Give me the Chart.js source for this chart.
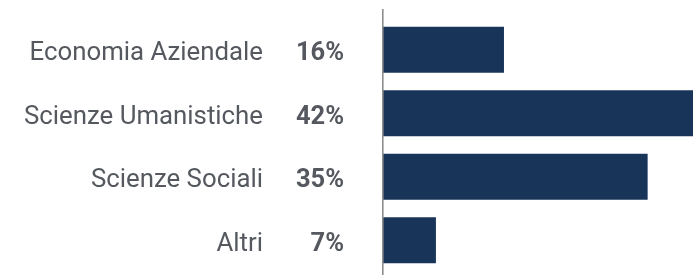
<!DOCTYPE html>
<html>
<head>
<meta charset="utf-8">
<script src="https://cdn.jsdelivr.net/npm/chart.js@4/dist/chart.umd.min.js"></script>
<style>
  html, body { margin: 0; padding: 0; background: #ffffff; }
  #wrap { width: 693px; height: 276px; position: relative; }
</style>
</head>
<body>
<div id="wrap"><canvas id="c"></canvas></div>
<script>
const categories = ["Economia Aziendale", "Scienze Umanistiche", "Scienze Sociali", "Altri"];
const values = [16, 42, 35, 7];
const percentLabels = ["16%", "42%", "35%", "7%"];

const axisLinePlugin = {
  id: 'axisLine',
  afterDatasetsDraw(chart) {
    const { ctx, chartArea } = chart;
    ctx.save();
    ctx.strokeStyle = '#8e8e8e';
    ctx.lineWidth = 1.6;
    ctx.beginPath();
    ctx.moveTo(chartArea.left - 0.2, chartArea.top - 9);
    ctx.lineTo(chartArea.left - 0.2, chartArea.bottom + 3);
    ctx.stroke();
    ctx.restore();
  }
};

function fixAxis(width) {
  return function (s) {
    s.width = width;
    s.paddingTop = 0;
    s.paddingBottom = 0;
  };
}

new Chart(document.getElementById('c'), {
  type: 'bar',
  data: {
    labels: categories,
    datasets: [{
      data: values,
      backgroundColor: '#183559',
      borderWidth: 0,
      categoryPercentage: 1,
      barPercentage: 0.724,
      yAxisID: 'y'
    }]
  },
  options: {
    indexAxis: 'y',
    responsive: true,
    maintainAspectRatio: false,
    animation: false,
    layout: { padding: { top: 18, bottom: 4, left: 0, right: 0 } },
    plugins: { legend: { display: false }, tooltip: { enabled: false } },
    scales: {
      x: { display: false, min: 0, max: 41 },
      y: {
        type: 'category',
        position: 'left',
        weight: 1,
        offset: true,
        grid: { display: false, drawTicks: false },
        border: { display: false },
        ticks: { padding: 17, labelOffset: 4, color: '#55595f', font: { family: 'Roboto', size: 25.8 } },
        afterFit: fixAxis(280)
      },
      y2: {
        type: 'category',
        position: 'left',
        weight: 0,
        offset: true,
        labels: percentLabels,
        grid: { display: false, drawTicks: false },
        border: { display: false },
        ticks: { padding: 39, labelOffset: 4, color: '#55595f', font: { family: 'Roboto', size: 25.5, weight: 'bold' } },
        afterFit: fixAxis(103)
      }
    }
  },
  plugins: [axisLinePlugin]
});
</script>
</body>
</html>
